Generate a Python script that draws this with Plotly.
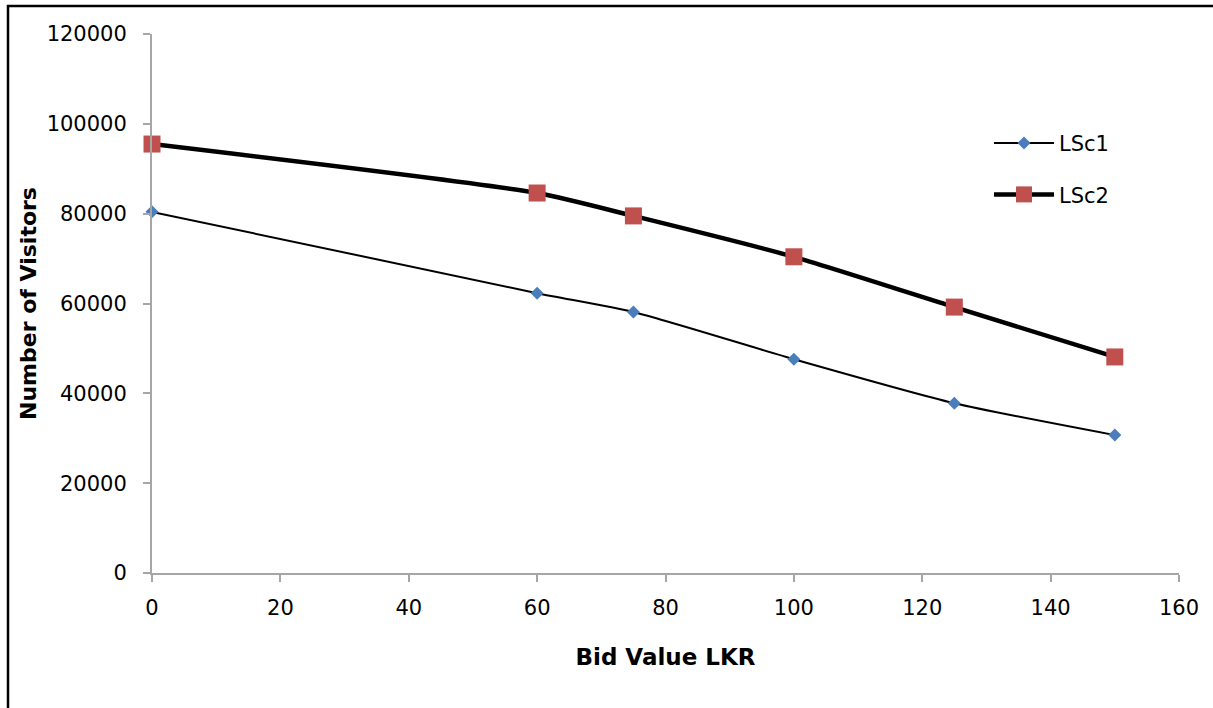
import plotly.graph_objects as go

bid_values = [0, 60, 75, 100, 125, 150]
lsc1 = [80400, 62300, 58100, 47600, 37800, 30700]
lsc2 = [95500, 84600, 79500, 70400, 59200, 48100]

FONT = "DejaVu Sans"

fig = go.Figure()
fig.add_trace(go.Scatter(
    x=bid_values, y=lsc1, name="LSc1", mode="lines+markers",
    line=dict(color="black", width=2, shape="spline", smoothing=0.6),
    marker=dict(symbol="diamond", size=10, color="#4a7ebb"),
    legendgroup="a", cliponaxis=False,
))
fig.add_trace(go.Scatter(
    x=bid_values, y=lsc2, name="LSc2", mode="lines+markers",
    line=dict(color="black", width=4.5, shape="spline", smoothing=0.6),
    marker=dict(symbol="square", size=17, color="#c0504d"),
    legendgroup="b", cliponaxis=False,
))

axis_common = dict(
    showgrid=False, zeroline=False, showline=True, linecolor="#a6a6a6", linewidth=2,
    ticks="outside", tickcolor="#a6a6a6", ticklen=7, tickwidth=2,
    tickfont=dict(family=FONT, size=21, color="black"),
)

fig.update_layout(
    width=1213, height=708,
    margin=dict(l=152, r=34, t=34, b=135),
    paper_bgcolor="white", plot_bgcolor="white",
    font=dict(family=FONT, color="black"),
    showlegend=True,
    legend=dict(x=0.815, y=0.835, xanchor="left", yanchor="top",
                font=dict(family=FONT, size=21, color="black"),
                itemwidth=60,
                tracegroupgap=21, bgcolor="rgba(0,0,0,0)"),
    xaxis=dict(range=[0, 160], tickvals=[0, 20, 40, 60, 80, 100, 120, 140, 160],
               ticklabelstandoff=8,
               title=dict(text="<b>Bid Value LKR</b>", font=dict(family=FONT, size=23), standoff=30),
               **axis_common),
    yaxis=dict(range=[0, 120000], tickvals=[0, 20000, 40000, 60000, 80000, 100000, 120000],
               tickformat="d", ticklabelstandoff=12,
               title=dict(text="<b>Number of Visitors</b>", font=dict(family=FONT, size=22), standoff=4),
               **axis_common),
    shapes=[dict(type="rect", xref="paper", yref="paper", x0=-0.1402, x1=1.2, y0=-0.4, y1=1.052,
                 line=dict(color="black", width=2.5), fillcolor="rgba(0,0,0,0)", layer="below")],
)

fig.write_html("out.html")
